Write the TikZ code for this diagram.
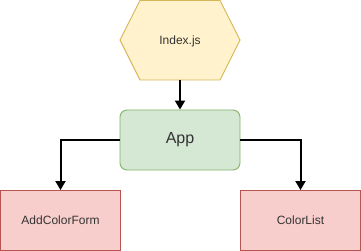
\documentclass[tikz,border=0pt]{standalone}
\usepackage{fontspec}
\setmainfont{Liberation Sans}
\usetikzlibrary{shapes.geometric,arrows.meta}
\definecolor{yfill}{HTML}{FFF2CC}
\definecolor{ydraw}{HTML}{D6B656}
\definecolor{gfill}{HTML}{D5E8D4}
\definecolor{gdraw}{HTML}{82B366}
\definecolor{rfill}{HTML}{F8CECC}
\definecolor{rdraw}{HTML}{B85450}
\definecolor{txt}{HTML}{333333}
\begin{document}
\begin{tikzpicture}[x=1pt,y=-1pt,
  appbox/.style={rectangle, rounded corners=7pt, fill=gfill, draw=gdraw, line width=0.9pt,
    minimum width=120pt, minimum height=60pt, font=\fontsize{16}{18}\selectfont, text=txt},
  compbox/.style={rectangle, fill=rfill, draw=rdraw, line width=0.9pt,
    minimum width=120pt, minimum height=60pt, font=\fontsize{12}{14}\selectfont, text=txt},
  link/.style={line width=2pt, -{Triangle[length=9pt,width=10pt]}}]
\useasboundingbox (0,0) rectangle (361,251);
% hexagon drawn directly: flat top and bottom, pointed sides
\filldraw[fill=yfill, draw=ydraw, line width=0.9pt]
  (140,0.5) -- (220,0.5) -- (240,40) -- (220,80) -- (140,80) -- (120,40) -- cycle;
\node[font=\fontsize{12}{14}\selectfont, text=txt] (index) at (180,41) {Index.js};
\coordinate (indexbot) at (180,80);
\node[appbox] (app) at (180,140) {App};
\node[compbox] (form) at (60.5,220.5) {AddColorForm};
\node[compbox] (list) at (300.5,220.5) {ColorList};
\draw[link] (indexbot) -- (app.north);
\draw[link] (app.west) -| (form.north);
\draw[link] (app.east) -| (list.north);
\end{tikzpicture}
\end{document}
